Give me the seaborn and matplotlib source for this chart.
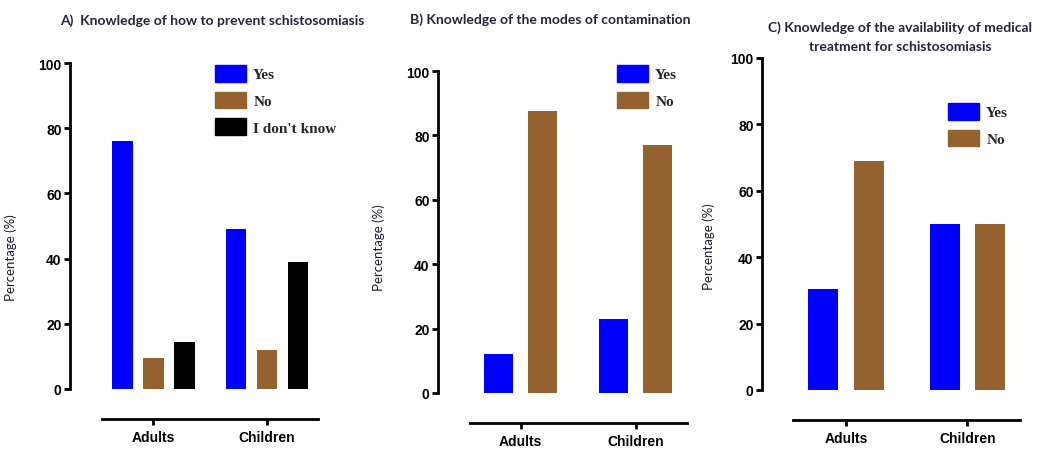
import matplotlib
matplotlib.use('Agg')
import matplotlib.pyplot as plt
import matplotlib.patches as mpatches
import pandas as pd
import seaborn as sns

# Values (percentages)
groups = ['Adults', 'Children']

answers_a = ['Yes', 'No', "I don't know"]
yes_a = [76, 49]
no_a = [9.5, 12]
idk_a = [14.5, 39]

answers_bc = ['Yes', 'No']
yes_b = [12, 23]
no_b = [87.5, 77]

yes_c = [30.5, 50]
no_c = [69, 50]

titles = ['A)  Knowledge of how to prevent schistosomiasis',
          'B) Knowledge of the modes of contamination',
          'C) Knowledge of the availability of medical\ntreatment for schistosomiasis']

colors = {'Yes': '#0000FF', 'No': '#94622F', "I don't know": '#000000'}
title_color = '#25253a'


def long_df(answers, series):
    rows = []
    for ans, vals in zip(answers, series):
        for g, v in zip(groups, vals):
            rows.append({'group': g, 'answer': ans, 'value': v})
    return pd.DataFrame(rows)


sns.set_theme(style='white')
plt.rcParams['font.family'] = ['Liberation Sans', 'DejaVu Sans']

W, H = 1042, 452
fig = plt.figure(figsize=(W / 100, H / 100), dpi=100)


def px_axes(left, right, top, bottom):
    return fig.add_axes([left / W, (H - bottom) / H, (right - left) / W, (bottom - top) / H])


# axes pixel box, xlim, bar width, gap, x spine bounds, legend anchor, ylabel position
panels = [
    dict(box=(70, 352, 64, 390), xlim=(-0.736, 1.75), width=0.82, gap=0.35,
         bounds=(-0.45, 1.45), leg=(215, 66), ylab=(17, 258),
         df=long_df(answers_a, [yes_a, no_a, idk_a]), answers=answers_a),
    dict(box=(438, 722, 72, 394), xlim=(-0.72, 1.75), width=0.765, gap=0.34,
         bounds=(-0.443, 1.443), leg=(617, 66), ylab=(385, 248),
         df=long_df(answers_bc, [yes_b, no_b]), answers=answers_bc),
    dict(box=(762, 1028, 59, 391), xlim=(-0.694, 1.5), width=0.75, gap=0.34,
         bounds=(-0.438, 1.438), leg=(948, 104), ylab=(715, 247),
         df=long_df(answers_bc, [yes_c, no_c]), answers=answers_bc),
]

for p in panels:
    l, r, t, b = p['box']
    ax = px_axes(l, r, t, b)
    sns.barplot(data=p['df'], x='group', y='value', hue='answer',
                hue_order=p['answers'], order=groups, palette=colors, saturation=1,
                width=p['width'], gap=p['gap'], linewidth=0, ax=ax, legend=False)
    ax.set_xlim(*p['xlim'])
    ax.set_ylim(0, 100)
    ax.set_yticks([0, 20, 40, 60, 80, 100])
    ax.set_xlabel('')
    ax.set_ylabel('Percentage (%)', fontsize=9.5, color='#1c1c2c', family=['Lato', 'DejaVu Sans'])
    ax.yaxis.set_label_coords((p['ylab'][0] - l) / (r - l), (b - p['ylab'][1]) / (b - t))

    for s in ['top', 'right']:
        ax.spines[s].set_visible(False)
    for s in ['left', 'bottom']:
        ax.spines[s].set_linewidth(2)
        ax.spines[s].set_color('black')
    ax.spines['bottom'].set_position(('outward', 21.6))
    ax.spines['bottom'].set_bounds(*p['bounds'])
    ax.tick_params(axis='both', direction='out', length=4, width=2, colors='black',
                   labelsize=10, pad=2, left=True, bottom=True)
    ax.tick_params(axis='x', pad=4)
    for lab in ax.get_xticklabels() + ax.get_yticklabels():
        lab.set_fontweight('bold')

    handles = [mpatches.Patch(color=colors[a], label=a) for a in p['answers']]
    lx, ly = p['leg']
    ax.legend(handles=handles, loc='upper left', frameon=False,
              bbox_to_anchor=((lx - l) / (r - l), (b - ly) / (b - t)),
              borderpad=0, borderaxespad=0, handlelength=2.0, handleheight=1.3,
              handletextpad=0.5, labelspacing=0.65,
              prop={'family': 'Liberation Serif', 'weight': 'bold', 'size': 11})

fig.text(212 / W, 1 - 21 / H, titles[0], ha='center', va='center', fontsize=10,
         fontweight='bold', color=title_color, family=['Lato', 'DejaVu Sans'])
fig.text(550 / W, 1 - 20 / H, titles[1], ha='center', va='center', fontsize=10,
         fontweight='bold', color=title_color, family=['Lato', 'DejaVu Sans'])
fig.text(900 / W, 1 - 37 / H, titles[2], ha='center', va='center', fontsize=10,
         fontweight='bold', color=title_color, linespacing=1.75,
         multialignment='center', family=['Lato', 'DejaVu Sans'])

fig.savefig('out.png', dpi=100)
